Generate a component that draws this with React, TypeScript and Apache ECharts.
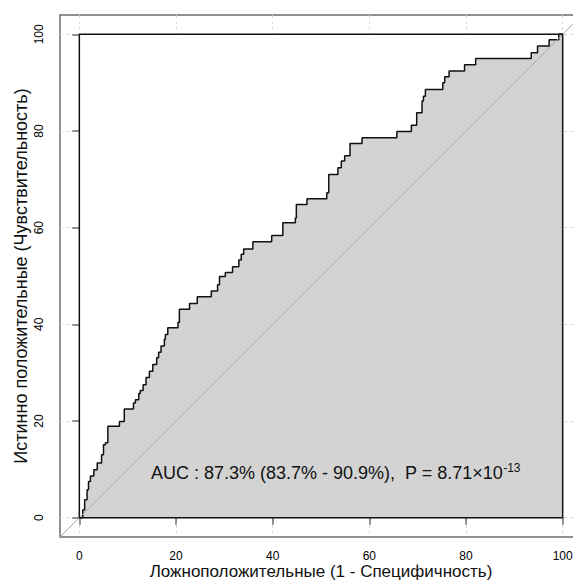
import React, { useEffect, useRef } from 'react';
import * as echarts from 'echarts';

// ROC curve step points (1 - specificity, sensitivity), in %
const fpr = [0, 0.7, 1.1, 1.6, 1.9, 2.3, 3.0, 3.7, 4.6, 5.0, 5.4, 5.9, 8.3, 9.3, 11.2, 11.6, 12.3, 12.6, 13.2, 13.8, 14.5, 15.2, 16.0, 16.4, 16.9, 17.6, 17.8, 18.3, 20.4, 20.7, 22.8, 24.4, 27.3, 28.6, 29.0, 30.2, 31.7, 33.0, 33.5, 34.0, 35.9, 39.8, 42.1, 44.7, 44.9, 47.1, 51.2, 51.6, 53.5, 54.2, 54.9, 56.0, 58.5, 65.7, 68.7, 69.8, 70.9, 71.2, 71.6, 75.2, 75.6, 76.5, 79.7, 82.0, 93.5, 94.8, 97.2, 99.2, 100];
const tpr = [0, 1.6, 3.7, 5.8, 7.5, 8.6, 9.9, 11.3, 13.0, 15.1, 15.5, 18.9, 19.9, 22.5, 23.7, 24.4, 25.7, 26.3, 27.5, 29.0, 30.3, 31.7, 33.1, 34.2, 35.5, 36.9, 37.9, 39.3, 40.4, 43.1, 44.3, 45.7, 46.9, 48.2, 49.9, 50.7, 51.9, 53.3, 54.5, 55.6, 57.1, 58.4, 61.0, 62.0, 64.8, 66.0, 67.2, 71.0, 72.4, 73.8, 74.9, 77.4, 78.6, 79.9, 81.2, 83.8, 86.2, 87.2, 88.6, 90.0, 91.2, 92.4, 93.7, 95.0, 96.2, 97.6, 98.9, 100, 100];

const tickValues = [0, 20, 40, 60, 80, 100];
const axisMin = -4;
const axisMax = 104;
const boxX = [0, 0, 100, 100, 0];
const boxY = [0, 100, 100, 0, 0];
const diagX = [axisMin, axisMax];
const diagY = [axisMin, axisMax];

const xTitle = 'Ложноположительные (1 - Специфичность)';
const yTitle = 'Истинно положительные (Чувствительность)';
const aucText = 'AUC : 87.3% (83.7% - 90.9%),  P = 8.71×10';
const pExponent = '-13';

const FONT = '"Liberation Sans", Arial, sans-serif';

export default function App() {
  const ref = useRef<HTMLDivElement>(null);

  useEffect(() => {
    const chart = echarts.init(ref.current!, null, { renderer: 'svg' });

    const axisBase = (name: string, gap: number, isY: boolean, nameSize: number, margin: number) => ({
      type: 'value',
      min: axisMin,
      max: axisMax,
      splitNumber: 10,
      axisLine: { show: false },
      axisTick: {
        show: true,
        customValues: tickValues,
        length: 7,
        lineStyle: { color: '#6e6e6e', width: 1.5 },
      },
      axisLabel: {
        customValues: tickValues,
        fontSize: 12,
        fontFamily: FONT,
        color: '#000',
        margin,
        rotate: isY ? 90 : 0,
      },
      splitLine: {
        show: true,
        lineStyle: { color: '#d9d9d9', width: 1, type: [3, 3] },
      },
      name,
      nameLocation: 'middle',
      nameGap: gap,
      nameMoveOverlap: false,
      nameTextStyle: { fontSize: nameSize, fontFamily: FONT, color: '#111' },
    });

    const rocData = fpr.map((x, i) => [x, tpr[i]]);
    const boxData = boxX.map((x, i) => [x, boxY[i]]);
    const diagData = diagX.map((x, i) => [x, diagY[i]]);

    chart.setOption({
      animation: false,
      backgroundColor: '#ffffff',
      grid: {
        left: 60,
        top: 15,
        width: 522,
        height: 522,
        outerBoundsMode: 'none',
        containLabel: false,
        show: true,
        borderColor: '#6e6e6e',
        borderWidth: 1.5,
        backgroundColor: 'transparent',
      },
      xAxis: axisBase(xTitle, 26, false, 17, 13),
      yAxis: axisBase(yTitle, 30, true, 18, 15),
      series: [
        {
          type: 'line',
          z: 1,
          data: [],
          silent: true,
          markArea: {
            silent: true,
            itemStyle: { color: '#ffffff' },
            data: [[{ coord: [boxX[0], boxY[0]] }, { coord: [boxX[2], boxY[2]] }]],
          },
        },
        {
          type: 'line',
          z: 3,
          step: 'end',
          data: rocData,
          showSymbol: false,
          symbol: 'none',
          lineStyle: { color: '#111', width: 1.5 },
          areaStyle: { color: '#d3d3d3', opacity: 1, origin: 0 },
        },
        {
          type: 'line',
          z: 4,
          data: diagData,
          symbol: 'none',
          lineStyle: { color: '#a8a8a8', width: 1 },
        },
        {
          type: 'line',
          z: 5,
          data: boxData,
          symbol: 'none',
          lineStyle: { color: '#111', width: 1.5 },
        },
      ],
      graphic: [
        {
          type: 'text',
          x: 151,
          y: 462,
          z: 10,
          style: {
            text: '{m|' + aucText + '}{s|' + pExponent + '}',
            verticalAlign: 'top',
            rich: {
              m: { fontSize: 18, fontFamily: FONT, fill: '#111', lineHeight: 21 },
              s: { fontSize: 12, fontFamily: FONT, fill: '#111', lineHeight: 8, verticalAlign: 'top' },
            },
          },
        },
      ],
    });

    return () => chart.dispose();
  }, []);

  return (
    <div
      ref={ref}
      style={{ position: 'fixed', left: 0, top: 0, width: 573, height: 582 }}
    />
  );
}
